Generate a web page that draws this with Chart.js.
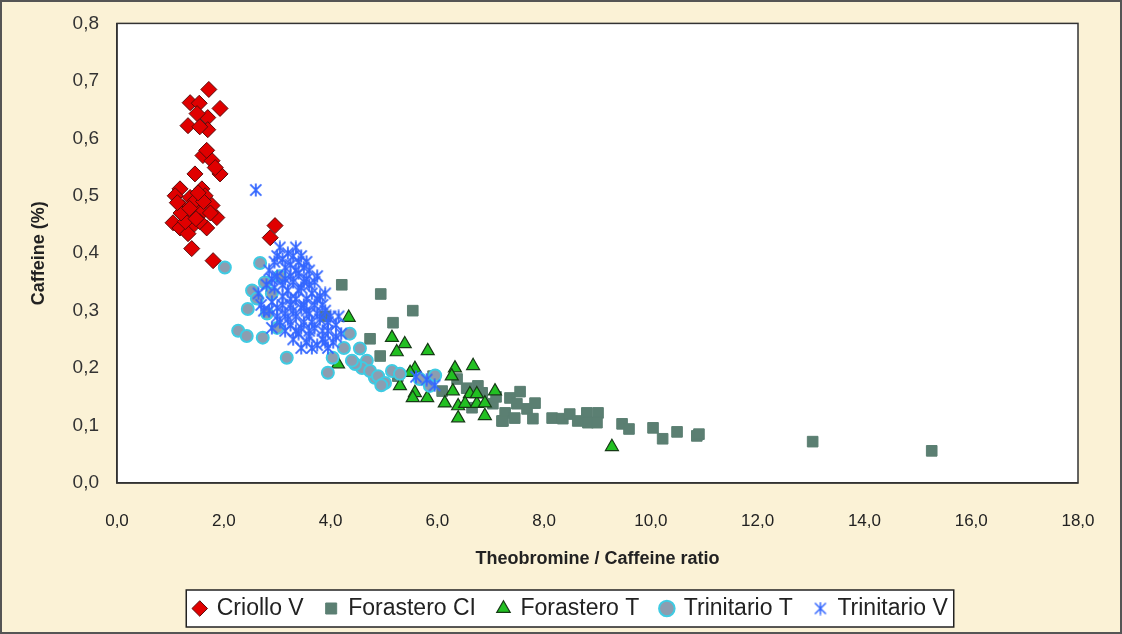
<!DOCTYPE html>
<html><head><meta charset="utf-8">
<script src="https://cdn.jsdelivr.net/npm/chart.js@4.4.1/dist/chart.umd.min.js"></script>
<style>
html,body{margin:0;padding:0;background:#fbf2d6;}
#wrap{width:1122px;height:634px;box-sizing:border-box;border:2px solid #555;position:relative;background:#fbf2d6;}
canvas{display:block;}
</style></head>
<body><div id="wrap"><canvas id="c" width="1118" height="630"></canvas></div>
<script>
const seriesNames = ['Criollo V','Forastero CI','Forastero T','Trinitario T','Trinitario V'];
const xTickLabels = ['0,0','2,0','4,0','6,0','8,0','10,0','12,0','14,0','16,0','18,0'];
const yTickLabels = ['0,0','0,1','0,2','0,3','0,4','0,5','0,6','0,7','0,8'];
const xTitle = 'Theobromine / Caffeine ratio';
const yTitle = 'Caffeine (%)';

const criolloV = [[1.72,0.685],[1.37,0.662],[1.54,0.661],[1.93,0.652],[1.70,0.636],[1.33,0.622],[1.70,0.615],[1.50,0.643],[1.61,0.570],[1.78,0.561],[1.93,0.538],[1.46,0.538],[1.84,0.549],[1.68,0.579],[1.18,0.512],[1.59,0.512],[1.09,0.500],[1.37,0.497],[1.65,0.500],[1.24,0.479],[1.50,0.479],[1.78,0.483],[1.05,0.453],[1.31,0.469],[1.59,0.471],[1.87,0.462],[1.42,0.448],[1.18,0.444],[1.68,0.444],[1.33,0.434],[1.40,0.408],[1.80,0.387],[2.96,0.448],[2.87,0.427],[1.45,0.49],[1.28,0.455],[1.55,0.455],[1.62,0.49],[1.20,0.47],[1.48,0.46],[1.75,0.47],[1.55,0.62],[1.13,0.488],[1.52,0.505],[1.36,0.478]];

const forasteroCI = [[4.21,0.345],[4.94,0.329],[5.54,0.300],[5.17,0.279],[4.74,0.251],[4.93,0.221],[5.26,0.186],[5.92,0.186],[6.09,0.160],[6.37,0.181],[6.76,0.169],[6.84,0.157],[6.65,0.131],[7.04,0.138],[7.21,0.108],[7.36,0.148],[7.55,0.159],[7.49,0.138],[7.68,0.129],[7.83,0.139],[7.27,0.122],[7.45,0.113],[7.79,0.112],[7.23,0.108],[8.15,0.113],[8.35,0.112],[8.48,0.120],[8.63,0.108],[8.80,0.122],[8.82,0.105],[9.01,0.122],[8.99,0.105],[9.46,0.103],[9.59,0.094],[10.04,0.096],[10.22,0.077],[10.49,0.089],[10.86,0.082],[10.90,0.085],[13.03,0.072],[15.26,0.056],[3.90,0.290],[6.55,0.165],[7.10,0.150]];

const forasteroT = [[4.34,0.288],[5.15,0.253],[5.39,0.242],[5.24,0.228],[5.82,0.230],[4.14,0.207],[5.58,0.199],[5.49,0.192],[5.30,0.169],[6.33,0.200],[6.67,0.204],[6.27,0.186],[5.58,0.157],[5.81,0.148],[5.54,0.148],[6.29,0.160],[6.61,0.155],[7.08,0.160],[6.14,0.139],[6.39,0.134],[6.52,0.138],[6.74,0.138],[6.89,0.139],[6.39,0.113],[6.89,0.117],[6.74,0.155],[9.27,0.063]];

const trinitarioT = [[2.02,0.375],[2.68,0.383],[2.77,0.349],[2.53,0.335],[2.62,0.321],[2.45,0.303],[2.81,0.295],[2.27,0.265],[2.43,0.256],[2.73,0.253],[3.00,0.270],[3.18,0.218],[3.95,0.192],[4.04,0.218],[4.36,0.260],[4.55,0.234],[4.68,0.213],[4.59,0.200],[4.83,0.183],[4.46,0.207],[4.74,0.195],[4.89,0.186],[5.02,0.174],[5.15,0.195],[4.40,0.213],[5.67,0.181],[5.96,0.187],[5.86,0.169],[2.90,0.330],[3.05,0.360],[4.25,0.235],[4.95,0.170],[5.30,0.190]];

const trinitarioV = [[3.05,0.41],[3.20,0.40],[3.35,0.41],[3.45,0.395],[3.10,0.39],[2.95,0.385],[3.25,0.38],[3.50,0.375],[3.60,0.37],[3.40,0.365],[2.85,0.37],[3.00,0.36],[3.15,0.355],[3.30,0.35],[3.55,0.355],[3.70,0.35],[2.80,0.345],[2.95,0.34],[3.20,0.335],[3.45,0.34],[3.65,0.33],[3.80,0.325],[3.10,0.325],[3.35,0.32],[3.55,0.32],[2.90,0.315],[3.00,0.305],[3.25,0.31],[3.45,0.305],[3.70,0.31],[3.90,0.30],[4.00,0.29],[2.75,0.30],[3.15,0.295],[3.35,0.29],[3.60,0.295],[3.80,0.285],[4.10,0.275],[3.05,0.28],[3.25,0.275],[3.50,0.28],[3.70,0.27],[3.95,0.265],[4.20,0.26],[2.90,0.27],[3.15,0.265],[3.40,0.26],[3.60,0.255],[3.85,0.25],[4.05,0.245],[3.30,0.25],[3.55,0.245],[3.75,0.24],[3.95,0.235],[3.45,0.235],[2.70,0.31],[2.65,0.33],[3.85,0.31],[4.15,0.29],[3.75,0.36],[3.40,0.385],[3.90,0.33],[2.60,0.51],[5.80,0.18],[5.95,0.17],[5.60,0.185],
  [3.00,0.395],[3.30,0.395],[3.15,0.375],[3.35,0.37],[3.55,0.385],[2.90,0.355],[3.10,0.345],[3.40,0.335],[3.60,0.345],[3.25,0.32],[3.50,0.31],[3.75,0.32],[2.85,0.30],[3.10,0.31],[3.30,0.30],[3.55,0.30],[3.75,0.295],[3.95,0.28],[3.20,0.285],[3.45,0.27],[3.65,0.28],[3.85,0.265],[4.10,0.255],[3.35,0.265],[3.60,0.265],[3.90,0.245],[3.65,0.235],[3.00,0.29],[3.50,0.35],[3.25,0.36]];

const toPts = a => a.map(p => ({x: p[0], y: p[1]}));

// asterisk marker (vertical bar + X), like the spreadsheet marker
function makeAsterisk(size, color, lw){
  const c = document.createElement('canvas');
  c.width = size; c.height = size;
  const g = c.getContext('2d');
  g.strokeStyle = color; g.lineWidth = lw; g.lineCap = 'butt';
  const m = size/2, r = size/2 - 0.5;
  g.beginPath();
  g.moveTo(m, m - r); g.lineTo(m, m + r);
  g.moveTo(m - r*0.85, m - r*0.85); g.lineTo(m + r*0.85, m + r*0.85);
  g.moveTo(m + r*0.85, m - r*0.85); g.lineTo(m - r*0.85, m + r*0.85);
  g.stroke();
  return c;
}
const asterisk = makeAsterisk(14, '#3366ff', 1.8);
const asteriskLegend = makeAsterisk(14, '#3366ff', 1.5);

const plotBg = {
  id: 'plotBg',
  beforeDraw(chart){
    const {ctx, chartArea: a} = chart;
    ctx.save(); ctx.fillStyle = '#ffffff';
    ctx.fillRect(a.left, a.top, a.right - a.left, a.bottom - a.top);
    ctx.restore();
  },
  afterDatasetsDraw(chart){
    const {ctx, chartArea: a} = chart;
    ctx.save(); ctx.strokeStyle = '#333'; ctx.lineWidth = 1.5;
    ctx.strokeRect(a.left, a.top, a.right - a.left, a.bottom - a.top);
    ctx.restore();
  }
};
const legendBox = {
  id: 'legendBox',
  afterLayout(chart){
    const lg = chart.legend;
    if (lg) { lg.left += 31; lg.right += 31; }
  },
  beforeDraw(chart){
    const lg = chart.legend;
    if (!lg || !lg.legendHitBoxes || !lg.legendHitBoxes.length) return;
    const hb = lg.legendHitBoxes;
    let l = Infinity, r = -Infinity, t = Infinity, b = -Infinity;
    hb.forEach(h => { l = Math.min(l, h.left); r = Math.max(r, h.left + h.width); t = Math.min(t, h.top); b = Math.max(b, h.top + h.height); });
    const ctx = chart.ctx;
    ctx.save();
    ctx.fillStyle = '#fff';
    ctx.strokeStyle = '#222'; ctx.lineWidth = 1.5;
    const x0 = l - 8, y0 = t - 7, w = r - l + 14, h = b - t + 14;
    ctx.fillRect(x0, y0, w, h);
    ctx.strokeRect(x0, y0, w, h);
    ctx.restore();
  }
};

Chart.defaults.font.family = '"Liberation Sans", Arial, sans-serif';
Chart.defaults.color = '#222';

new Chart(document.getElementById('c'), {
  type: 'scatter',
  data: {
    datasets: [
      {label: seriesNames[0], data: toPts(criolloV), order: 4, pointStyle: 'rectRot', pointRadius: 8, backgroundColor: '#e00000', borderColor: '#5a0a0a', borderWidth: 1},
      {label: seriesNames[1], data: toPts(forasteroCI), order: 3, pointStyle: 'rect', pointRadius: 7.5, backgroundColor: '#5b7f72', borderColor: '#5b7f72', borderWidth: 1},
      {label: seriesNames[2], data: toPts(forasteroT), order: 2, pointStyle: 'triangle', pointRadius: 7.5, backgroundColor: '#22c022', borderColor: '#163a16', borderWidth: 1.2},
      {label: seriesNames[3], data: toPts(trinitarioT), order: 1, pointStyle: 'circle', pointRadius: 6, backgroundColor: '#8c9db0', borderColor: '#3fcbe3', borderWidth: 2},
      {label: seriesNames[4], data: toPts(trinitarioV), order: 0, pointStyle: asterisk, pointRadius: 7, backgroundColor: '#3366ff', borderColor: '#3366ff', borderWidth: 1}
    ]
  },
  options: {
    responsive: false,
    animation: false,
    events: [],
    layout: {padding: {left: 0, right: 42, top: 21, bottom: 2}},
    scales: {
      x: {
        type: 'linear', min: 0, max: 18,
        grid: {display: false, drawOnChartArea: false, drawTicks: true, tickLength: 7, color: '#333', lineWidth: 1.2},
        border: {display: true, color: '#333', width: 1.5},
        ticks: {stepSize: 2, padding: 21, font: {size: 17}, color: '#222', maxRotation: 0,
          callback: (v, i) => xTickLabels[Math.round(v/2)] ?? ''},
        title: {display: true, text: xTitle, font: {size: 18, weight: 'bold'}, color: '#222', padding: {top: 0, bottom: 5}},
        afterFit: s => { s.height = 92; }
      },
      y: {
        type: 'linear', min: 0, max: 0.8,
        grid: {display: false, drawOnChartArea: false, drawTicks: true, tickLength: 8, color: '#333', lineWidth: 1.2},
        border: {display: true, color: '#333', width: 1.5},
        ticks: {stepSize: 0.1, padding: 10, font: {size: 19}, color: '#333',
          callback: (v) => yTickLabels[Math.round(v*10)] ?? ''},
        title: {display: true, text: yTitle, font: {size: 18, weight: 'bold'}, color: '#222', padding: {top: 26, bottom: 0}},
        afterFit: s => { s.width = 115; }
      }
    },
    plugins: {
      legend: {
        position: 'bottom',
        labels: {
          usePointStyle: true, boxWidth: 11, boxHeight: 11, padding: 22,
          font: {size: 23}, color: '#222',
          sort: (a, b) => a.datasetIndex - b.datasetIndex,
          generateLabels: (chart) => {
            const base = Chart.defaults.plugins.legend.labels.generateLabels(chart);
            return base.map(it => {
              if (it.datasetIndex === 4) it.pointStyle = asteriskLegend;
              return it;
            });
          }
        }
      },
      tooltip: {enabled: false}
    }
  },
  plugins: [plotBg, legendBox]
});
</script>
</body></html>
